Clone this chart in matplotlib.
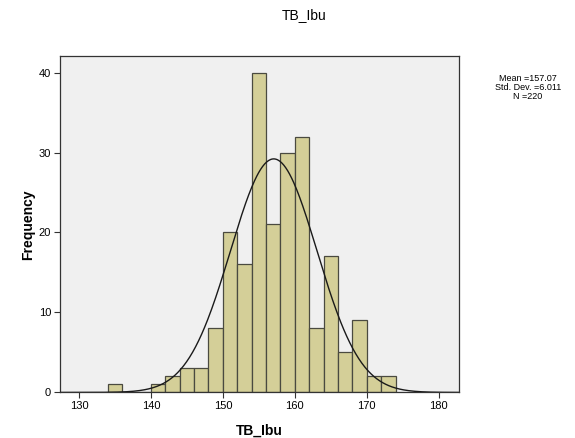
import numpy as np
import matplotlib.pyplot as plt

plt.rcParams['font.family'] = ['Liberation Sans', 'DejaVu Sans']

# histogram data (bin width 2)
bin_edges = [134, 136, 138, 140, 142, 144, 146, 148, 150, 152, 154,
             156, 158, 160, 162, 164, 166, 168, 170, 172, 174]
counts = [1, 0, 0, 1, 2, 3, 3, 8, 20, 16, 40, 21, 30, 32, 8, 17, 5, 9, 2, 2]
mean = 157.07
std = 6.011
n = 220
x_ticks = [130, 140, 150, 160, 170, 180]
y_ticks = [0, 10, 20, 30, 40]

fig = plt.figure(figsize=(5.75, 4.38), dpi=100)
ax = fig.add_axes([0.1035, 0.104, 0.6945, 0.768])
ax.set_facecolor('#F0F0F0')

lefts = np.array(bin_edges[:-1])
widths = np.diff(bin_edges)
ax.bar(lefts, counts, width=widths, align='edge', color='#D4CF98',
       edgecolor='#4a4a40', linewidth=0.9, zorder=2)

# normal curve scaled to counts
xs = np.linspace(127.3, 182.8, 400)
bw = 2
ys = n * bw * np.exp(-0.5 * ((xs - mean) / std) ** 2) / (std * np.sqrt(2 * np.pi))
ax.plot(xs, ys, color='#1a1a1a', linewidth=1.0, zorder=3)

ax.set_xlim(127.3, 182.8)
ax.set_ylim(0, 42.06)
ax.set_xticks(x_ticks)
ax.set_yticks(y_ticks)
ax.tick_params(labelsize=8, length=4, width=0.8, color='#333333', pad=2)
for s in ax.spines.values():
    s.set_color('#333333')
    s.set_linewidth(0.9)

ax.set_xlabel('TB_Ibu', fontsize=10, fontweight='bold', labelpad=9)
ax.set_ylabel('Frequency', fontsize=10, fontweight='bold', labelpad=3)
fig.text(0.529, 0.966, 'TB_Ibu', ha='center', va='center', fontsize=10)

fig.text(0.918, 0.80, 'Mean =157.07\nStd. Dev. =6.011\nN =220',
         ha='center', va='center', fontsize=6.5, linespacing=1.05)

fig.savefig('out.png', dpi=100)
